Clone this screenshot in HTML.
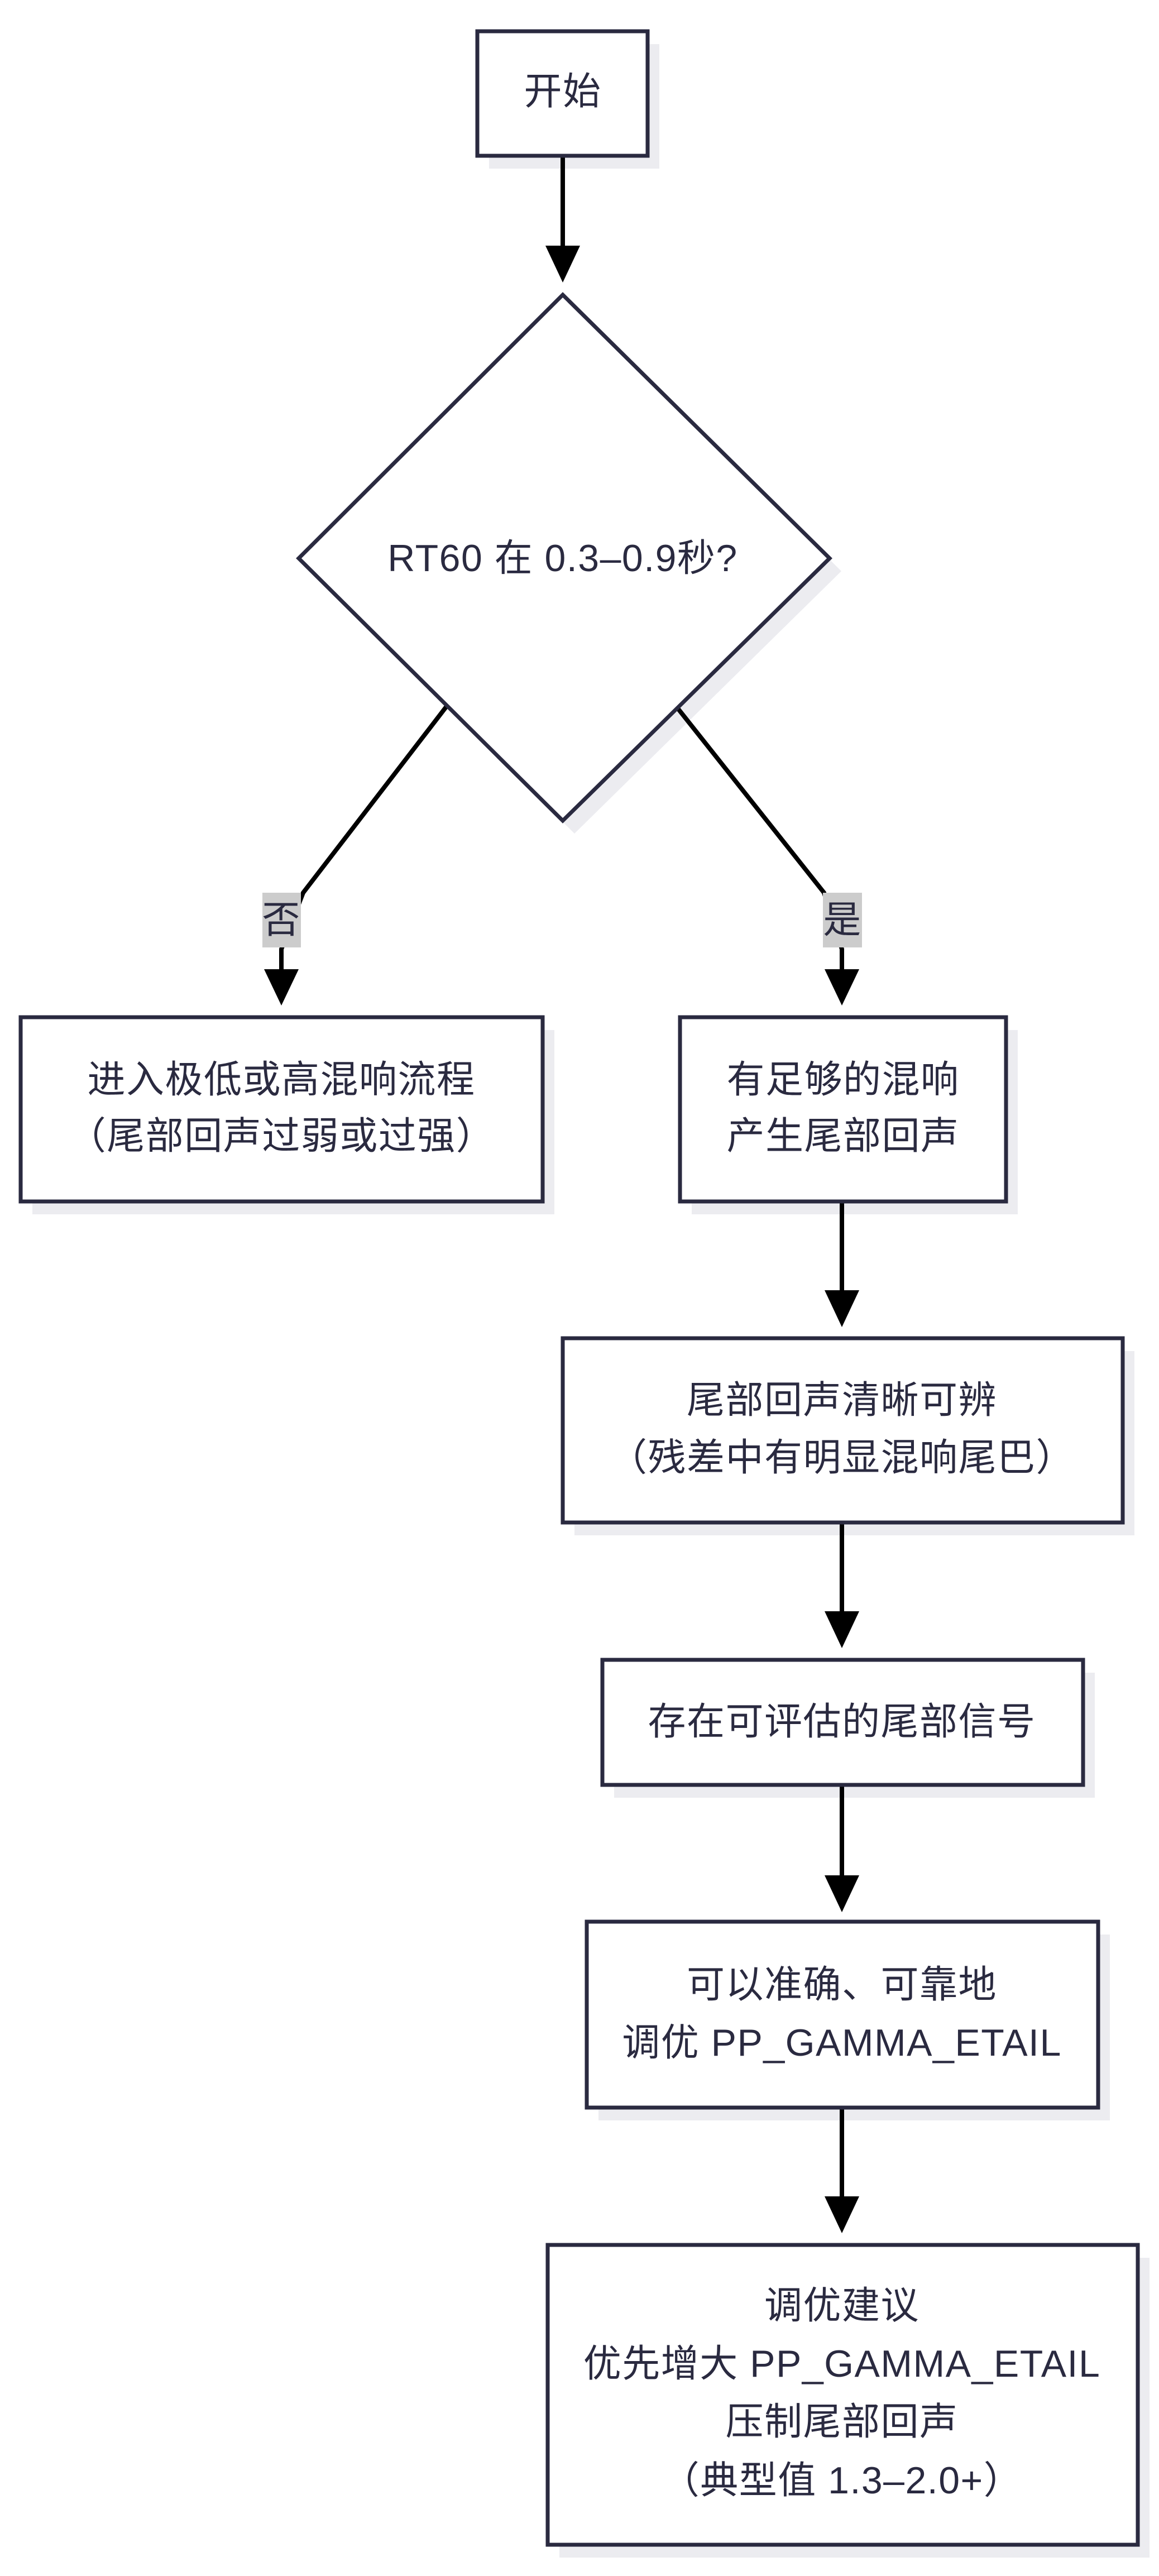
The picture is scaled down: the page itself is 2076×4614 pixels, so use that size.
<!DOCTYPE html>
<html><head><meta charset="utf-8"><style>
html,body{margin:0;padding:0;background:#fff;}
svg{display:block;}
text{font-family:"Liberation Sans","Noto Sans CJK SC",sans-serif;font-size:68px;letter-spacing:1.5px;fill:#2a2a40;text-anchor:middle;dominant-baseline:central;}
.b{fill:#fff;stroke:#2a2a40;stroke-width:7;}
.s{fill:#ececf0;}
.l{stroke:#000;stroke-width:8;fill:none;}
.a{fill:#000;}
</style></head><body>
<svg width="2076" height="4614" viewBox="0 0 2076 4614" xmlns="http://www.w3.org/2000/svg">
<!-- shadows -->
<rect class="s" x="876" y="79" width="305" height="223"/>
<polygon class="s" points="1029,551 1507,1023 1029,1493 556,1023"/>
<rect class="s" x="58" y="1845" width="935" height="330"/>
<rect class="s" x="1239" y="1845" width="584" height="330"/>
<rect class="s" x="1029" y="2420" width="1003" height="330"/>
<rect class="s" x="1100" y="2996" width="861" height="224"/>
<rect class="s" x="1072" y="3465" width="916" height="333"/>
<rect class="s" x="1002" y="4044" width="1057" height="537"/>
<!-- connectors -->
<line class="l" x1="1008" y1="279" x2="1008" y2="440"/>
<polygon class="a" points="977,440 1039,440 1008,506"/>
<polyline class="l" points="800,1265 543,1599 504,1700 504,1736"/>
<polygon class="a" points="473,1736 535,1736 504,1801"/>
<polyline class="l" points="1215,1270 1476,1599 1508,1700 1508,1736"/>
<polygon class="a" points="1477,1736 1539,1736 1508,1801"/>
<line class="l" x1="1508" y1="2152" x2="1508" y2="2311"/>
<polygon class="a" points="1477,2311 1539,2311 1508,2377"/>
<line class="l" x1="1508" y1="2727" x2="1508" y2="2886"/>
<polygon class="a" points="1477,2886 1539,2886 1508,2952"/>
<line class="l" x1="1508" y1="3197" x2="1508" y2="3359"/>
<polygon class="a" points="1477,3359 1539,3359 1508,3425"/>
<line class="l" x1="1508" y1="3775" x2="1508" y2="3934"/>
<polygon class="a" points="1477,3934 1539,3934 1508,4000"/>
<!-- edge labels -->
<rect x="470" y="1599" width="69" height="98" fill="#cccccc"/>
<text x="504" y="1648">否</text>
<rect x="1474" y="1599" width="70" height="98" fill="#cccccc"/>
<text x="1509" y="1648">是</text>
<!-- nodes -->
<rect class="b" x="855" y="56" width="305" height="223"/>
<text x="1008" y="164">开始</text>
<polygon class="b" points="1008,528 1486,1000 1008,1470 535,1000"/>
<text x="1008" y="1000">RT60 在 0.3–0.9秒?</text>
<rect class="b" x="37" y="1822" width="935" height="330"/>
<text x="504" y="1934">进入极低或高混响流程</text>
<text x="504" y="2035">（尾部回声过弱或过强）</text>
<rect class="b" x="1218" y="1822" width="584" height="330"/>
<text x="1510" y="1934">有足够的混响</text>
<text x="1510" y="2035">产生尾部回声</text>
<rect class="b" x="1008" y="2397" width="1003" height="330"/>
<text x="1508" y="2508">尾部回声清晰可辨</text>
<text x="1508" y="2611">（残差中有明显混响尾巴）</text>
<rect class="b" x="1079" y="2973" width="861" height="224"/>
<text x="1508" y="3084">存在可评估的尾部信号</text>
<rect class="b" x="1051" y="3442" width="916" height="333"/>
<text x="1508" y="3555">可以准确、可靠地</text>
<text x="1508" y="3659">调优 PP_GAMMA_ETAIL</text>
<rect class="b" x="981" y="4021" width="1057" height="537"/>
<text x="1508" y="4130">调优建议</text>
<text x="1508" y="4234">优先增大 PP_GAMMA_ETAIL</text>
<text x="1508" y="4338">压制尾部回声</text>
<text x="1508" y="4443">（典型值 1.3–2.0+）</text>
</svg>
</body></html>
